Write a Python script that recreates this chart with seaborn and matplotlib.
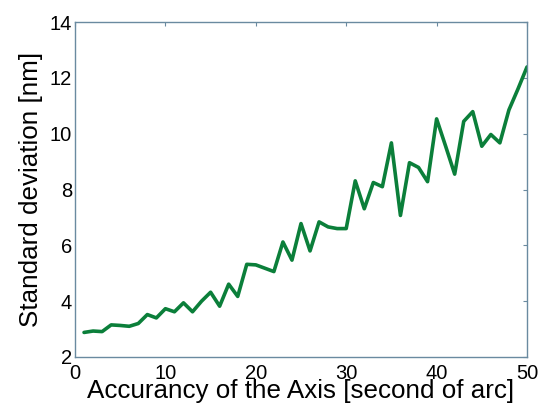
import matplotlib
matplotlib.use("Agg")
import matplotlib.pyplot as plt
import seaborn as sns
import pandas as pd

accuracy = list(range(1, 51))
std_dev = [2.88, 2.93, 2.91, 3.15, 3.13, 3.10, 3.20, 3.52, 3.40, 3.73,
           3.62, 3.94, 3.62, 4.00, 4.32, 3.82, 4.61, 4.17, 5.32, 5.30,
           5.18, 5.06, 6.12, 5.47, 6.78, 5.80, 6.84, 6.66, 6.60, 6.60,
           8.31, 7.31, 8.25, 8.10, 9.67, 7.07, 8.96, 8.79, 8.28, 10.53,
           9.55, 8.55, 10.44, 10.79, 9.55, 9.97, 9.67, 10.85, 11.60, 12.39]
x_ticks = [0, 10, 20, 30, 40, 50]
y_ticks = [2, 4, 6, 8, 10, 12, 14]

df = pd.DataFrame({"x": accuracy, "y": std_dev})

sns.set_style("white")
plt.rcParams['font.family'] = ['Liberation Sans', 'DejaVu Sans']
plt.rcParams['text.color'] = 'black'
plt.rcParams['axes.labelcolor'] = 'black'

fig = plt.figure(figsize=(5.44, 4.07), dpi=100)
ax = fig.add_axes([75/544, 1 - 357/407, (527-75)/544, (357-22)/407])
sns.lineplot(data=df, x="x", y="y", ax=ax, color="#0b7f3a", linewidth=2.6)

ax.set_xlim(0, 50)
ax.set_ylim(2, 14)
ax.set_xticks(x_ticks)
ax.set_yticks(y_ticks)
ax.tick_params(direction="in", length=3, width=0.8, color="#6a8aa0",
               top=True, right=True, labelsize=14.5, labelcolor="black")
ax.tick_params(axis="x", pad=5)
ax.tick_params(axis="y", pad=2)
for s in ax.spines.values():
    s.set_color("#6a8aa0")
    s.set_linewidth(1.0)
ax.set_xlabel("Accurancy of the Axis [second of arc]", fontsize=18.7, labelpad=-3)
ax.set_ylabel("Standard deviation [nm]", fontsize=18.7, labelpad=5)

fig.savefig("out.png", dpi=100)
